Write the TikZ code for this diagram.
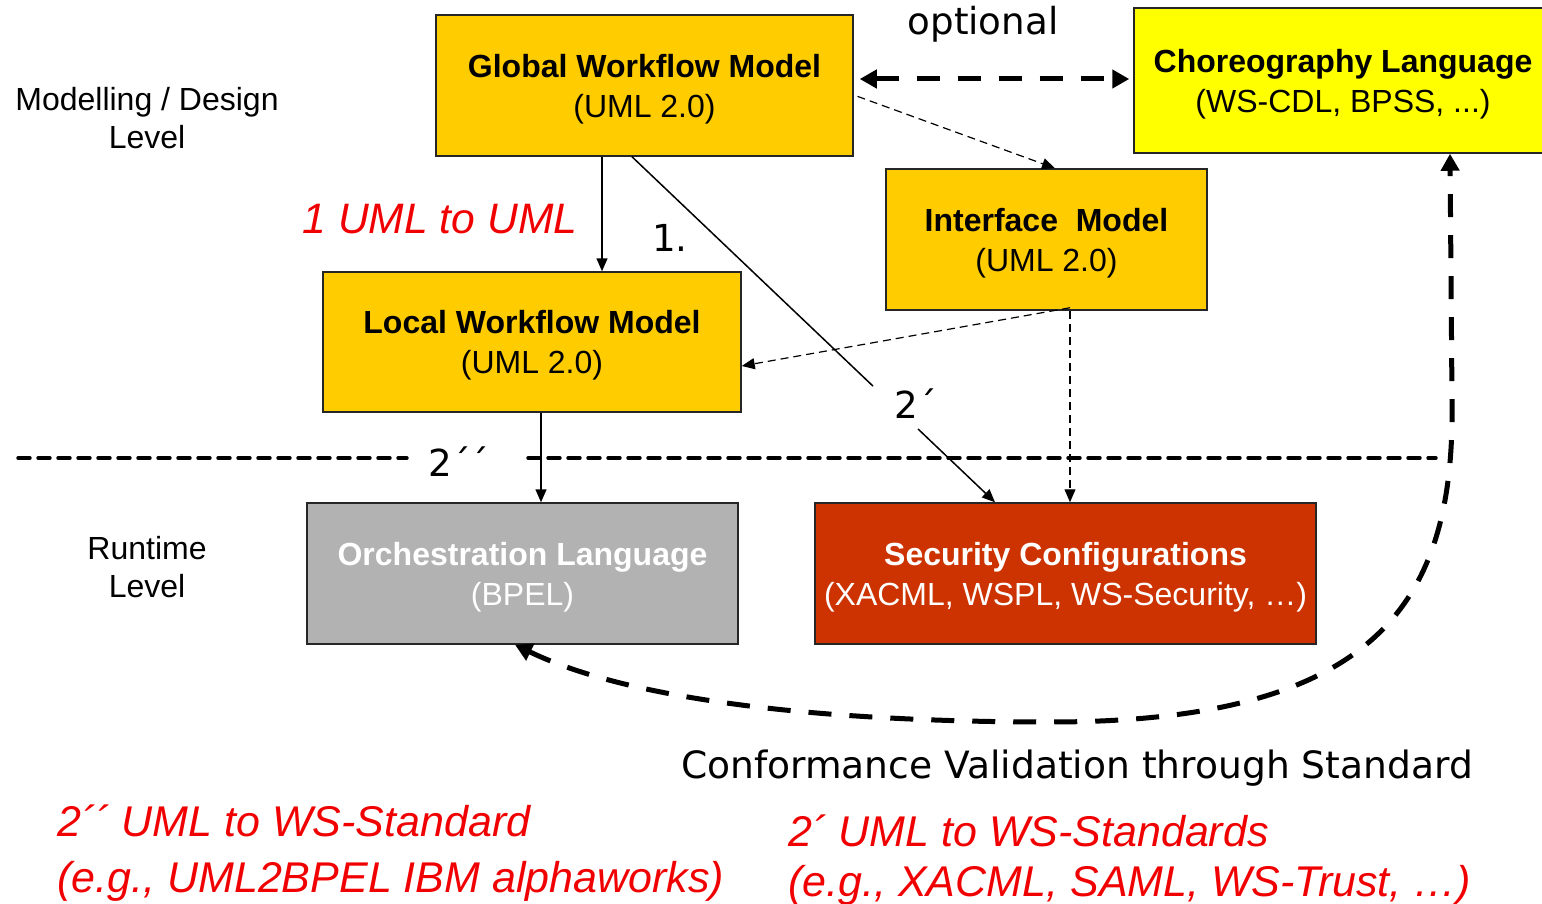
\documentclass[tikz,border=0pt]{standalone}
\usepackage{fontspec}
\setmainfont{Liberation Sans}
\newfontfamily\dvfont{DejaVu Sans}
\usetikzlibrary{arrows.meta}
\definecolor{boxgold}{HTML}{FFCC00}
\definecolor{boxyellow}{HTML}{FFFF00}
\definecolor{boxgrey}{HTML}{B2B2B2}
\definecolor{boxred}{HTML}{CC3300}
\definecolor{labelred}{HTML}{F00000}
\begin{document}
\begin{tikzpicture}[x=0.5pt,y=-0.5pt,
  box/.style={draw=black!85, line width=0.75pt, minimum height=70.5pt, align=center,
    font=\fontsize{16pt}{20pt}\selectfont, inner sep=0pt, text depth=0pt},
  lvl/.style={align=center, font=\fontsize{16pt}{19pt}\selectfont, inner sep=0pt},
  dvlab/.style={font=\dvfont\fontsize{18.6pt}{22pt}\selectfont, inner sep=0pt},
  redlab/.style={align=left, anchor=west, inner sep=0pt, text=labelred},
  thinarrow/.style={line width=0.75pt, -{Triangle[length=6.5pt,width=5.5pt]}},
  thinline/.style={line width=0.75pt},
  thindash/.style={line width=0.6pt, dash pattern=on 4pt off 2.5pt, -{Triangle[length=6.5pt,width=5.5pt]}},
  bigdash/.style={line width=2.5pt, dash pattern=on 11.5pt off 9pt,
    {Triangle[length=8.5pt,width=9pt]}-{Triangle[length=8.5pt,width=9pt]}},
  sepline/.style={line width=1.7pt, line cap=round, dash pattern=on 6pt off 4pt}]
\useasboundingbox (0,0) rectangle (1542,904);

% boxes
\node[box, fill=boxgold, minimum width=208.5pt] (g) at (644.5,85.5)
  {\textbf{Global Workflow Model}\\(UML 2.0)};
\node[box, fill=boxyellow, minimum width=209pt, minimum height=72.5pt] (c) at (1343,80.5)
  {\textbf{Choreography Language}\\(WS-CDL, BPSS, ...)};
\node[box, fill=boxgold, minimum width=160.5pt] (i) at (1046.5,239.5)
  {\textbf{Interface~~Model}\\(UML 2.0)};
\node[box, fill=boxgold, minimum width=209pt, minimum height=70pt] (l) at (532,342)
  {\textbf{Local Workflow Model}\\(UML 2.0)};
\node[box, fill=boxgrey, minimum width=215.5pt, text=white] (o) at (522.5,573.5)
  {\textbf{Orchestration Language}\\(BPEL)};
\node[box, fill=boxred, minimum width=250.5pt, text=white] (s) at (1065.5,573.5)
  {\textbf{Security Configurations}\\(XACML, WSPL, WS-Security, …)};

% level labels
\node[lvl] (lv1) at (147,118) {Modelling / Design\\Level};
\node[lvl] (lv2) at (147,567) {Runtime\\Level};

% separator with gap for label
\coordinate (sepA) at (18,458);
\coordinate (sepB) at (407,458);
\coordinate (sepC) at (528,458);
\coordinate (sepD) at (1436,458);
\draw[sepline] (sepA) -- (sepB);
\draw[sepline] (sepC) -- (sepD);
\node[dvlab] (t2b) at (459,462) {2´´};

% connectors
\draw[bigdash, shorten <=3pt, shorten >=2pt] ([yshift=3.25pt]g.east) -- ([yshift=3.25pt]g.east -| c.west);
\draw[thindash, shorten <=2pt] ([yshift=-4.75pt]g.east) -- ([xshift=4.25pt]i.north);
\draw[thinarrow] ([xshift=-21.25pt]g.south) -- ([xshift=-21.25pt]g.south |- l.north);
% diagonal 2' line, interrupted by its label
\path ([xshift=-6.25pt]g.south) -- ([xshift=-35.25pt]s.north)
  coordinate[pos=0.664] (dgA) coordinate[pos=0.788] (dgB);
\draw[thinline] ([xshift=-6.25pt]g.south) -- (dgA);
\draw[thinarrow] (dgB) -- ([xshift=-35.25pt]s.north);
\node[dvlab] (t2a) at (916,404) {2´};
\draw[thinarrow] ([xshift=4.5pt]l.south) -- ([xshift=4.5pt]l.south |- o.north);
\draw[thindash] ([xshift=11.75pt,yshift=1.5pt]i.south) -- ([yshift=-12pt]l.east);
\draw[thindash] ([xshift=11.75pt]i.south) -- ([xshift=11.75pt]i.south |- s.north);
\draw[bigdash] ([xshift=-3.75pt]o.south) .. controls (640,705) and (850,722) .. (1050,722)
  .. controls (1380,722) and (1455,600) .. (1452,400) -- ([xshift=53.5pt]c.south);

% labels
\node[dvlab] (opt) at (983,24) {optional};
\node[dvlab] (one) at (670,238) {1.};
\node[dvlab, font=\dvfont\fontsize{18.8pt}{22pt}\selectfont] (conf) at (1077,768) {Conformance Validation through Standard};
\node[inner sep=0pt, text=labelred, font=\itshape\fontsize{21.3pt}{28pt}\selectfont] (r1) at (440,219) {1 UML to UML};
\node[redlab, font=\itshape\fontsize{21.5pt}{28pt}\selectfont] (r2) at (57,853)
  {2´´ UML to WS-Standard\\(e.g., UML2BPEL IBM alphaworks)};
\node[redlab, font=\itshape\fontsize{21.5pt}{25pt}\selectfont] (r3) at (788,860)
  {2´ UML to WS-Standards\\(e.g., XACML, SAML, WS-Trust, …)};
\end{tikzpicture}
\end{document}
